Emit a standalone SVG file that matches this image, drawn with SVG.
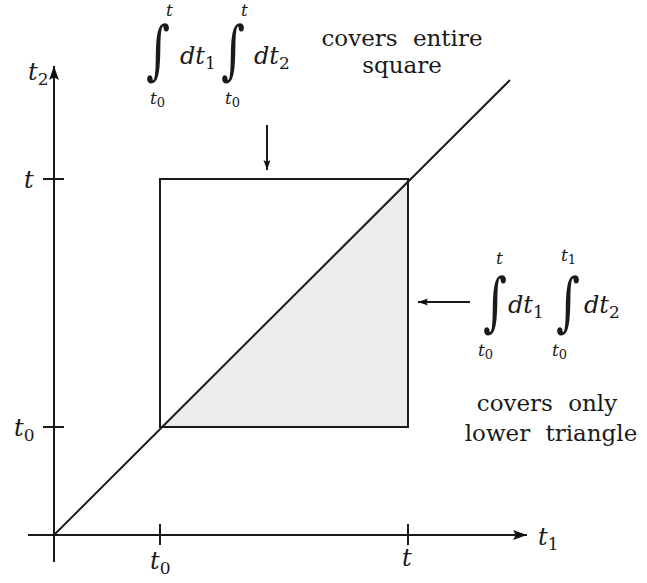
<svg xmlns="http://www.w3.org/2000/svg" width="647" height="583" viewBox="0 0 647 583">
<defs>
<marker id="ah" viewBox="0 0 10 10" refX="10" refY="5" markerWidth="10" markerHeight="10" markerUnits="userSpaceOnUse" orient="auto">
<path d="M0,1.5 L10,5 L0,8.5 L2,5 Z" fill="#111"/>
</marker>
<marker id="ahb" viewBox="0 0 10 10" refX="10" refY="5" markerWidth="16" markerHeight="14" markerUnits="userSpaceOnUse" orient="auto">
<path d="M0,1.5 L10,5 L0,8.5 L2,5 Z" fill="#111"/>
</marker>
</defs>
<style>
.ln{stroke:#1a1a1a;stroke-width:2;fill:none}
.t{font-family:"DejaVu Serif","Liberation Serif",serif;font-style:italic;font-size:24px;fill:#1a1a1a}
.lim{font-family:"DejaVu Serif","Liberation Serif",serif;font-style:italic;font-size:17px;fill:#1a1a1a}
.sub{font-style:normal;font-size:17px}
.sub2{font-style:normal;font-size:13px}
.r{font-family:"DejaVu Serif","Liberation Serif",serif;font-size:23px;fill:#1a1a1a}
.int{font-family:"DejaVu Serif",serif;font-size:46px;fill:#1a1a1a}
</style>
<rect width="647" height="583" fill="#fff"/>
<polygon id="shade" points="160,427 408,179 408,427" fill="#ececec"/>
<g id="connectors">
<line class="ln" x1="54" y1="562" x2="54" y2="66" marker-end="url(#ahb)"/>
<line class="ln" x1="28" y1="535" x2="527" y2="535" marker-end="url(#ahb)"/>
<line class="ln" x1="54" y1="535" x2="510" y2="80"/>
<line class="ln" x1="43" y1="179" x2="64" y2="179"/>
<line class="ln" x1="43" y1="427" x2="64" y2="427"/>
<line class="ln" x1="160" y1="524" x2="160" y2="545"/>
<line class="ln" x1="408" y1="524" x2="408" y2="545"/>
<line class="ln" x1="267" y1="125" x2="267" y2="170" marker-end="url(#ah)"/>
<line class="ln" x1="470" y1="302" x2="418" y2="302" marker-end="url(#ah)"/>
</g>
<g id="square"><rect class="ln" x="160" y="179" width="248" height="248"/></g>
<g id="axis-labels">
<text class="t" x="28" y="80">t<tspan class="sub" dy="5">2</tspan></text>
<text class="t" x="24" y="188">t</text>
<text class="t" x="14" y="436">t<tspan class="sub" dy="5">0</tspan></text>
<text class="t" x="150" y="569">t<tspan class="sub" dy="5">0</tspan></text>
<text class="t" x="402" y="566">t</text>
<text class="t" x="538" y="545">t<tspan class="sub" dy="5">1</tspan></text>
</g>
<g id="top-label">
<text class="int" x="146" y="72" transform="translate(146 72) scale(1 1.4) translate(-146 -72)">∫</text>
<text class="lim" x="166" y="16">t</text>
<text class="lim" x="150" y="104">t<tspan class="sub2" dy="3">0</tspan></text>
<text class="t" x="180" y="64">dt<tspan class="sub" dy="5">1</tspan></text>
<text class="int" x="221" y="72" transform="translate(221 72) scale(1 1.4) translate(-221 -72)">∫</text>
<text class="lim" x="241" y="16">t</text>
<text class="lim" x="225" y="104">t<tspan class="sub2" dy="3">0</tspan></text>
<text class="t" x="254" y="64">dt<tspan class="sub" dy="5">2</tspan></text>
<text class="r" x="402" y="46" text-anchor="middle" word-spacing="8">covers entire</text>
<text class="r" x="402" y="73" text-anchor="middle">square</text>
</g>
<g id="right-label">
<text class="int" x="483" y="324" transform="translate(483 324) scale(1 1.4) translate(-483 -324)">∫</text>
<text class="lim" x="496" y="264">t</text>
<text class="lim" x="478" y="356">t<tspan class="sub2" dy="3">0</tspan></text>
<text class="t" x="508" y="313">dt<tspan class="sub" dy="5">1</tspan></text>
<text class="int" x="556" y="324" transform="translate(556 324) scale(1 1.4) translate(-556 -324)">∫</text>
<text class="lim" x="561" y="261">t<tspan class="sub2" dy="3">1</tspan></text>
<text class="lim" x="552" y="356">t<tspan class="sub2" dy="3">0</tspan></text>
<text class="t" x="584" y="313">dt<tspan class="sub" dy="5">2</tspan></text>
<text class="r" x="547" y="411" text-anchor="middle" word-spacing="8">covers only</text>
<text class="r" x="551" y="441" text-anchor="middle" word-spacing="8">lower triangle</text>
</g>
</svg>
